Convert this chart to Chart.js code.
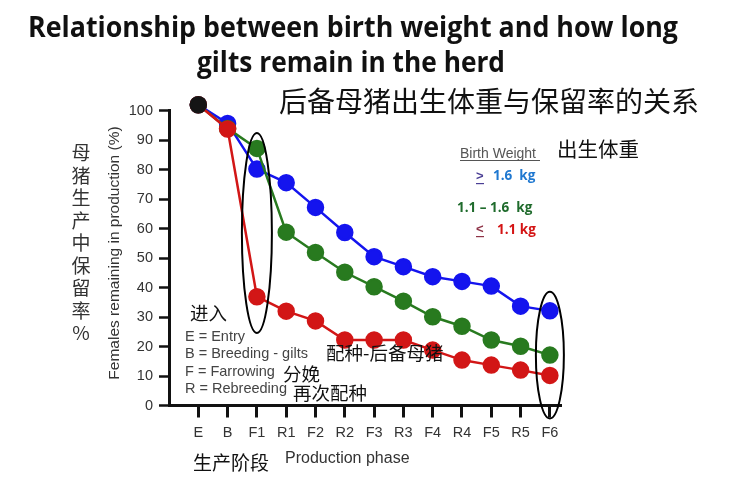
<!DOCTYPE html>
<html>
<head>
<meta charset="utf-8">
<script src="https://cdn.jsdelivr.net/npm/chart.js@4.4.1/dist/chart.umd.min.js"></script>
<style>
  html, body { margin: 0; padding: 0; background: #fff; }
  #wrap { width: 732px; height: 487px; }
</style>
</head>
<body>
<div id="wrap"><canvas id="c" width="732" height="487"></canvas></div>
<script>
// production phases (x axis)
const phases = ['E', 'B', 'F1', 'R1', 'F2', 'R2', 'F3', 'R3', 'F4', 'R4', 'F5', 'R5', 'F6'];
// females remaining in production (%) per birth weight group
const heavy  = [102, 95.7, 80.2, 75.6, 67.2, 58.7, 50.5, 47.1, 43.7, 42.1, 40.5, 33.7, 32.1]; // >= 1.6 kg
const medium = [102, 94.0, 87.2, 58.8, 51.9, 45.2, 40.3, 35.4, 30.1, 26.9, 22.2, 20.1, 17.1]; // 1.1 - 1.6 kg
const light  = [102, 93.8, 36.9, 32.0, 28.7, 22.2, 22.2, 22.2, 18.8, 15.4, 13.7, 12.0, 10.2]; // <= 1.1 kg
const entry  = [102];
const yTicks = [0, 10, 20, 30, 40, 50, 60, 70, 80, 90, 100];
// phases circled on the chart
const circled = [
  { phase: 'F1', top: 92.4, bottom: 24.6, rx: 15 },
  { phase: 'F6', top: 38.6, bottom: -4.4, rx: 14 }
];

const toPts = arr => arr.map((v, i) => ({ x: i, y: v }));

const cjk = '"Noto Sans CJK SC", sans-serif';
const arial = '"Liberation Sans", Arial, sans-serif';

function series(data, color) {
  return {
    data: toPts(data),
    borderColor: color,
    backgroundColor: color,
    pointBackgroundColor: color,
    pointBorderColor: color,
    borderWidth: 2.5,
    pointRadius: 7.5,
    pointHoverRadius: 7.5,
    clip: false
  };
}

// ellipses + all the free text of the slide
const decor = {
  id: 'decor',
  afterDatasetsDraw(chart) {
    const { ctx, scales } = chart;
    const x = scales.x, y = scales.y;
    ctx.save();
    ctx.strokeStyle = '#000';
    ctx.lineWidth = 2;
    circled.forEach(c => {
      const cx = x.getPixelForValue(phases.indexOf(c.phase));
      const y1 = y.getPixelForValue(c.top), y2 = y.getPixelForValue(c.bottom);
      ctx.beginPath();
      ctx.ellipse(cx, (y1 + y2) / 2, c.rx, (y2 - y1) / 2, 0, 0, Math.PI * 2);
      ctx.stroke();
    });
    ctx.restore();
  },
  afterDraw(chart) {
    const ctx = chart.ctx;
    const t = (txt, px, py, font, color, align, maxW) => {
      ctx.font = font;
      ctx.fillStyle = color;
      ctx.textAlign = align || 'left';
      ctx.textBaseline = 'alphabetic';
      if (maxW) ctx.fillText(txt, px, py, maxW); else ctx.fillText(txt, px, py);
    };
    ctx.save();
    // titles
    t('Relationship between birth weight and how long', 28, 37, 'bold 29px "Open Sans", sans-serif', '#111', 'left', 650);
    t('gilts remain in the herd', 197, 72, 'bold 29px "Open Sans", sans-serif', '#111', 'left', 308);
    t('后备母猪出生体重与保留率的关系', 279, 112, '28px ' + cjk, '#111', 'left', 429);

    // y axis titles
    ctx.save();
    ctx.translate(113, 253);
    ctx.rotate(-Math.PI / 2);
    t('Females remaining in production (%)', 0, 5.5, '15.5px ' + arial, '#333', 'center', 270);
    ctx.restore();
    const vert = '母猪生产中保留率%';
    for (let i = 0; i < vert.length; i++) {
      t(vert[i], 81, 160 + i * 22.5, '19px ' + cjk, '#333', 'center');
    }

    // x axis titles
    t('Production phase', 285, 463, '16px ' + arial, '#333', 'left', 126);
    t('生产阶段', 193, 470, '19px ' + cjk, '#111', 'left', 77);

    // legend
    t('Birth Weight', 460, 158, '14px ' + arial, '#555', 'left', 80);
    ctx.fillStyle = '#555';
    ctx.fillRect(460, 160, 80, 1);
    t('出生体重', 557, 157, '20.5px ' + cjk, '#111', 'left');
    t('>', 476, 180, 'bold 13px ' + arial, '#4b3f95');
    ctx.fillStyle = '#4b3f95';
    ctx.fillRect(476, 183, 8, 1.2);
    t('1.6  kg', 493, 180, 'bold 13.5px "Open Sans", sans-serif', '#1f78d0', 'left', 45);
    t('1.1 – 1.6  kg', 457, 212, 'bold 13.5px "Open Sans", sans-serif', '#1f6b2c', 'left', 81);
    t('<', 476, 233, 'bold 13px ' + arial, '#8e3347');
    ctx.fillStyle = '#8e3347';
    ctx.fillRect(476, 236, 8, 1.2);
    t('1.1 kg', 497, 234, 'bold 13.5px "Open Sans", sans-serif', '#d41414', 'left', 41);

    // phase key
    t('进入', 190, 320, '18.5px ' + cjk, '#111', 'left');
    const key = ['E = Entry', 'B = Breeding - gilts', 'F = Farrowing', 'R = Rebreeding'];
    key.forEach((k, i) => t(k, 185, 341 + i * 17.4, '14.5px ' + arial, '#444'));
    t('配种-后备母猪', 326, 360, '18.5px ' + cjk, '#111', 'left', 122);
    t('分娩', 283, 381, '18.5px ' + cjk, '#111', 'left');
    t('再次配种', 293, 400, '18.5px ' + cjk, '#111', 'left', 76);
    ctx.restore();
  }
};

new Chart(document.getElementById('c'), {
  type: 'line',
  data: {
    datasets: [
      Object.assign(series(entry, '#151515'), { showLine: false }),
      series(light, '#d21616'),
      series(medium, '#287a1f'),
      series(heavy, '#1414ee')
    ]
  },
  options: {
    responsive: false,
    animation: false,
    devicePixelRatio: 1,
    layout: { padding: { left: 60, top: 110.7, right: 170.4, bottom: 0 } },
    plugins: { legend: { display: false }, tooltip: { enabled: false } },
    scales: {
      x: {
        type: 'linear',
        min: -1,
        max: 12.4,
        afterFit(s) { s.height = 81.5; },
        afterBuildTicks(s) { s.ticks = phases.map((p, i) => ({ value: i })); },
        ticks: {
          autoSkip: false,
          maxRotation: 0,
          padding: 7,
          color: '#333',
          font: { family: arial, size: 14.5 },
          callback: v => phases[v]
        },
        grid: { drawOnChartArea: false, tickLength: 12, tickWidth: 3, tickColor: '#111' },
        border: { display: true, width: 3, color: '#111' }
      },
      y: {
        min: 0,
        max: 100,
        afterFit(s) { s.width = 109; },
        afterBuildTicks(s) { s.ticks = yTicks.map(v => ({ value: v })); },
        ticks: {
          padding: 6,
          color: '#333',
          font: { family: arial, size: 14.5 }
        },
        grid: { drawOnChartArea: false, tickLength: 10, tickWidth: 2.5, tickColor: '#111' },
        border: { display: true, width: 3, color: '#111' }
      }
    }
  },
  plugins: [decor]
});
</script>
</body>
</html>
